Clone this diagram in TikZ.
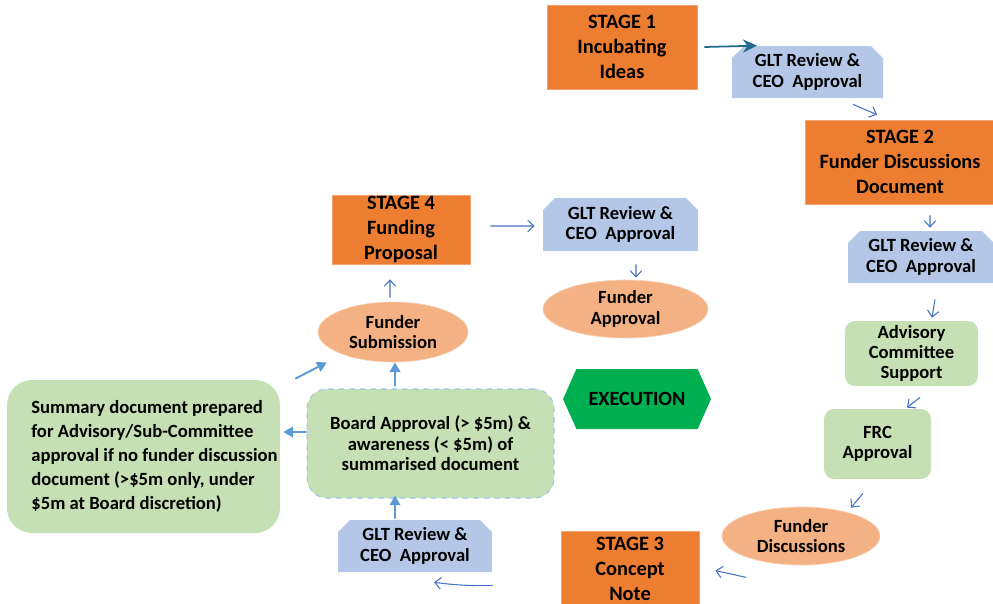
\documentclass[tikz,border=0pt]{standalone}
\usepackage{fontspec}
\setmainfont{Carlito}
\usepackage{tikz}
\usetikzlibrary{shapes.geometric,shapes.misc,shapes.symbols,arrows.meta}
\definecolor{stageorange}{HTML}{ED7D31}
\definecolor{gltblue}{HTML}{B4C7E7}
\definecolor{palegreen}{HTML}{C5E0B4}
\definecolor{salmon}{HTML}{F4B183}
\definecolor{execgreen}{HTML}{00B050}
\definecolor{arrblue}{HTML}{5B9BD5}
\definecolor{linkblue}{HTML}{4472C4}
\definecolor{tealarr}{HTML}{216A8E}
\definecolor{dashblue}{HTML}{9DC3E6}
\tikzset{
  every node/.style={font=\bfseries\fontsize{10.6}{11.6}\selectfont, align=center, inner sep=0pt},
  stagebox/.style={rectangle, fill=stageorange, draw=stageorange!70!white, line width=0.4pt, font=\bfseries\fontsize{11.6}{14.2}\selectfont},
  gltbox/.style={chamfered rectangle, chamfered rectangle corners={north west,north east}, chamfered rectangle xsep=0.12cm, chamfered rectangle ysep=0.12cm, fill=gltblue},
  greenbox/.style={rectangle, rounded corners=0.2cm, fill=palegreen},
  funderell/.style={ellipse, fill=salmon, draw=salmon!60!white, line width=0.4pt},
  openarr/.style={-{Straight Barb[length=3.5pt,width=6.5pt]}, linkblue, line width=0.6pt},
  fillarr/.style={-{Triangle[length=5.5pt,width=6pt]}, arrblue, line width=1.1pt}
}
\begin{document}
\begin{tikzpicture}[x=0.02cm, y=-0.02cm]
  \useasboundingbox (0,0) rectangle (993,603);
  % right-hand column
  \node[stagebox, minimum width=3.00cm, minimum height=1.68cm] (stage1) at (622,47) {STAGE 1\\Incubating\\Ideas};
  \node[gltbox, minimum width=3.02cm, minimum height=1.04cm] (glt1) at (807.5,72) {GLT Review \&\\CEO~ Approval};
  \node[stagebox, minimum width=3.80cm, minimum height=1.68cm] (stage2) at (900,162) {STAGE 2\\Funder Discussions\\Document};
  \node[gltbox, minimum width=2.92cm, minimum height=1.04cm] (glt2) at (921,257) {GLT Review \&\\CEO~ Approval};
  \node[greenbox, minimum width=2.66cm, minimum height=1.30cm] (advisory) at (911.5,353.5) {Advisory\\Committee\\Support};
  \node[greenbox, minimum width=2.14cm, minimum height=1.40cm] (frc) at (877.5,444) {FRC\\Approval};
  \node[funderell, minimum width=3.16cm, minimum height=1.16cm] (fdisc) at (801,536) {Funder\\Discussions};
  \node[stagebox, minimum width=2.76cm, minimum height=1.52cm] (stage3) at (630,569) {STAGE 3\\Concept\\Note};
  % bottom and left
  \node[gltbox, minimum width=3.08cm, minimum height=1.04cm] (glt3) at (415,546) {GLT Review \&\\CEO~ Approval};
  \node[greenbox, rounded corners=0.4cm, draw=dashblue, dashed, line width=0.6pt, minimum width=4.94cm, minimum height=2.18cm] (board) at (430.5,443.5) {Board Approval (> \$5m) \&\\awareness (< \$5m) of\\summarised document};
  \node[greenbox, rounded corners=0.5cm, minimum width=5.46cm, minimum height=3.06cm, font=\bfseries\fontsize{10.6}{13.6}\selectfont] (summary) at (143.5,456.5) {\hspace*{0.44cm}\begin{tabular}{@{}l@{}}Summary document prepared\\for Advisory/Sub-Committee\\approval if no funder discussion\\document (>\$5m only, under\\\$5m at Board discretion)\end{tabular}};
  \node[funderell, minimum width=3.00cm, minimum height=1.20cm] (fsub) at (393,332) {Funder\\Submission};
  \node[stagebox, minimum width=2.76cm, minimum height=1.38cm] (stage4) at (401,229.5) {STAGE 4\\Funding\\Proposal};
  \node[gltbox, minimum width=3.10cm, minimum height=1.06cm] (glt4) at (620.5,224.5) {GLT Review \&\\CEO~ Approval};
  \node[funderell, minimum width=3.30cm, minimum height=1.16cm] (fappr) at (625.5,309) {Funder\\Approval};
  \node[signal, signal to=west and east, signal pointer angle=132, fill=execgreen, minimum width=2.96cm, minimum height=1.20cm, font=\bfseries\fontsize{11.5}{12.5}\selectfont] (exec) at (637,399) {EXECUTION};
  % connectors
  \draw[-{Stealth[length=8pt,width=7.5pt]}, tealarr, line width=1pt] ([xshift=0.14cm]stage1.east) -- ([xshift=-1.01cm]glt1.north);
  \draw[openarr] ([xshift=0.91cm,yshift=-0.12cm]glt1.south) -- ([xshift=-0.46cm,yshift=0.10cm]stage2.north);
  \draw[openarr] ([xshift=0.60cm,yshift=-0.22cm]stage2.south) -- ([xshift=0.18cm,yshift=0.06cm]glt2.north);
  \draw[openarr] ([xshift=0.28cm,yshift=-0.32cm]glt2.south) -- ([xshift=0.41cm,yshift=0.06cm]advisory.north);
  \draw[openarr] ([xshift=0.17cm,yshift=-0.22cm]advisory.south) -- ([xshift=0.59cm,yshift=0.02cm]frc.north);
  \draw[openarr] ([xshift=-0.29cm,yshift=-0.28cm]frc.south) -- ([xshift=1.00cm,yshift=-0.02cm]fdisc.north);
  \draw[openarr] ([xshift=-1.10cm,yshift=-0.24cm]fdisc.south) -- ([xshift=0.32cm,yshift=-0.03cm]stage3.east);
  \draw[openarr] ([xshift=-1.36cm,yshift=-0.33cm]stage3.west) to[bend left=4] ([xshift=0.38cm,yshift=-0.20cm]glt3.south);
  \draw[fillarr] ([xshift=-0.40cm,yshift=0.02cm]glt3.north) -- ([xshift=-0.71cm,yshift=0.06cm]board.south);
  \draw[fillarr] ([yshift=0.23cm]board.west) -- ([xshift=0.06cm,yshift=0.49cm]summary.east);
  \draw[fillarr] ([xshift=-0.71cm,yshift=0.04cm]board.north) -- ([xshift=0.04cm]fsub.south);
  \draw[fillarr] ([xshift=0.30cm,yshift=0.02cm]summary.north east) -- ([xshift=-0.26cm,yshift=-0.18cm]fsub.south west);
  \draw[openarr] ([xshift=-0.06cm,yshift=0.08cm]fsub.north) -- ([xshift=-0.22cm,yshift=-0.30cm]stage4.south);
  \draw[openarr] ([xshift=0.40cm,yshift=0.07cm]stage4.east) -- ([xshift=-0.16cm,yshift=-0.03cm]glt4.west);
  \draw[openarr] ([xshift=0.31cm,yshift=-0.26cm]glt4.south) -- ([xshift=0.21cm,yshift=0.04cm]fappr.north);
\end{tikzpicture}
\end{document}
